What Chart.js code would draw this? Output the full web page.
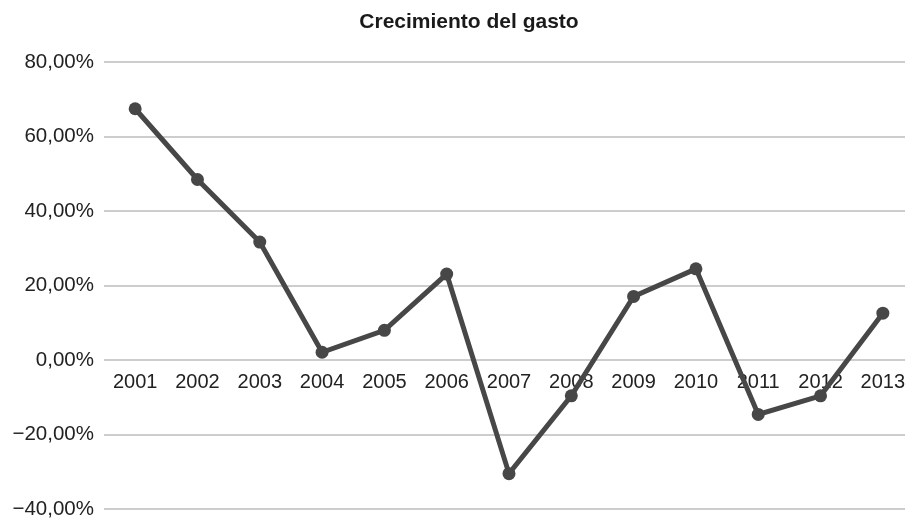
<!DOCTYPE html>
<html lang="es">
<head>
    <meta charset="UTF-8">
    <title>Crecimiento del gasto</title>
    <script src="https://cdn.jsdelivr.net/npm/chart.js"></script>
    <style>
        html, body {
            margin: 0;
            padding: 0;
            background: #ffffff;
            overflow: hidden;
        }
        #wrap {
            width: 938px;
            height: 521px;
        }
    </style>
</head>
<body>
    <div id="wrap"><canvas id="gastoChart"></canvas></div>

    <script>
        // Años y crecimiento del gasto (%)
        const years = ['2001', '2002', '2003', '2004', '2005', '2006', '2007',
                       '2008', '2009', '2010', '2011', '2012', '2013'];
        const growth = [67.5, 48.5, 31.7, 2.1, 8.0, 23.1, -30.5,
                        -9.6, 17.1, 24.5, -14.6, -9.6, 12.6];
        const yTicks = [-40, -20, 0, 20, 40, 60, 80];

        const fontFamily = '"Liberation Sans", Arial, sans-serif';

        function fmtPct(v) {
            const s = Math.abs(v).toFixed(2).replace('.', ',') + '%';
            return v < 0 ? '\u2212' + s : s;
        }

        new Chart(document.getElementById('gastoChart'), {
            type: 'line',
            data: {
                labels: years,
                datasets: [{
                    label: 'Crecimiento del gasto',
                    data: growth,
                    borderColor: '#474747',
                    backgroundColor: '#474747',
                    borderWidth: 5,
                    pointRadius: 6.5,
                    pointHoverRadius: 6.5,
                    pointBackgroundColor: '#474747',
                    pointBorderWidth: 0,
                    tension: 0,
                    fill: false
                }]
            },
            options: {
                responsive: true,
                maintainAspectRatio: false,
                animation: false,
                layout: {
                    padding: { left: 0, right: 0, top: 0, bottom: 12 }
                },
                plugins: {
                    legend: { display: false },
                    tooltip: { enabled: false },
                    title: {
                        display: true,
                        text: 'Crecimiento del gasto',
                        color: '#1a1a1a',
                        font: { family: fontFamily, size: 21, weight: 'bold' },
                        padding: { top: 10, bottom: 27 }
                    }
                },
                scales: {
                    x: {
                        position: { y: 0 },
                        offset: true,
                        grid: { display: false, drawTicks: false },
                        border: { display: false },
                        ticks: {
                            color: '#222222',
                            font: { family: fontFamily, size: 20 },
                            padding: 10,
                            maxRotation: 0,
                            autoSkip: false
                        },
                        afterFit: scale => { scale.height = 0; }
                    },
                    y: {
                        min: -40,
                        max: 80,
                        afterBuildTicks: scale => {
                            scale.ticks = yTicks.map(v => ({ value: v }));
                        },
                        grid: {
                            color: '#cdcdcd',
                            lineWidth: 2,
                            drawTicks: false
                        },
                        border: { display: false },
                        ticks: {
                            color: '#222222',
                            font: { family: fontFamily, size: 20.5 },
                            padding: 10,
                            callback: v => fmtPct(v)
                        },
                        afterFit: scale => {
                            scale.width = 104;
                            scale.paddingTop = 0;
                            scale.paddingBottom = 0;
                        }
                    },
                    // empty right axis, only keeps the plot edge at ~914px
                    yRight: {
                        position: 'right',
                        grid: { display: false, drawTicks: false },
                        border: { display: false },
                        ticks: { display: false },
                        afterFit: scale => { scale.width = 24; }
                    }
                }
            }
        });
    </script>
</body>
</html>
